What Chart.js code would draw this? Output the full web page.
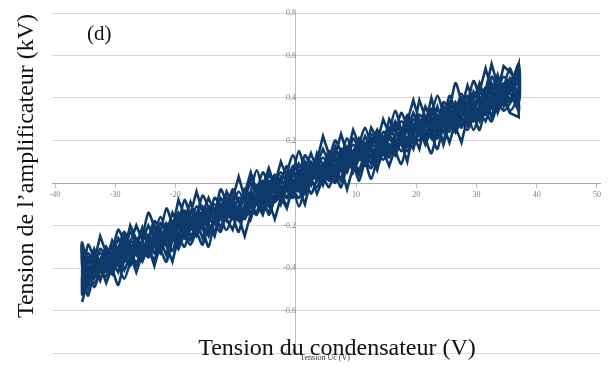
<!DOCTYPE html>
<html>
<head>
<meta charset="utf-8">
<script src="https://cdn.jsdelivr.net/npm/chart.js@4"></script>
<style>
  body { margin: 0; background: #fff; }
</style>
</head>
<body>
<canvas id="chart" width="616" height="367"></canvas>
<script>
// x positions (Tension Uc, V) of the samples, two interleaved grids
var gridA = [-35.5, -33.5, -31.5, -29.5, -27.5, -25.5, -23.5, -21.5, -19.5, -17.5, -15.5, -13.5, -11.5, -9.5, -7.5, -5.5, -3.5, -1.5,
  0.5, 2.5, 4.5, 6.5, 8.5, 10.5, 12.5, 14.5, 16.5, 18.5, 20.5, 22.5, 24.5, 26.5, 28.5, 30.5, 32.5, 34.5, 37];
var gridB = [-35.5, -34.5, -32.5, -30.5, -28.5, -26.5, -24.5, -22.5, -20.5, -18.5, -16.5, -14.5, -12.5, -10.5, -8.5, -6.5, -4.5, -2.5,
  -0.5, 1.5, 3.5, 5.5, 7.5, 9.5, 11.5, 13.5, 15.5, 17.5, 19.5, 21.5, 23.5, 25.5, 27.5, 29.5, 31.5, 33.5, 35.5, 37];

// amplifier voltage (kV), one array per sweep (odd: gridA, even: gridB)
var sweep1 = [-0.31, -0.45, -0.33, -0.42, -0.20, -0.33, -0.20, -0.34, -0.08, -0.22, -0.13, -0.25, -0.04, -0.15, 0.05, -0.13, -0.01, -0.12,
  0.09, -0.01, 0.22, 0.05, 0.17, 0.04, 0.26, 0.16, 0.27, 0.10, 0.39, 0.23, 0.34, 0.24, 0.46, 0.31, 0.56, 0.36, 0.56];
var sweep2 = [-0.53, -0.35, -0.46, -0.27, -0.36, -0.20, -0.34, -0.22, -0.37, -0.14, -0.21, -0.07, -0.21, -0.07, -0.25, -0.04, -0.11, 0.10,
  -0.04, 0.10, -0.05, 0.09, 0.02, 0.25, 0.11, 0.22, 0.08, 0.25, 0.16, 0.36, 0.23, 0.34, 0.19, 0.43, 0.34, 0.51, 0.33, 0.31];
var sweep3 = [-0.45, -0.31, -0.47, -0.32, -0.37, -0.21, -0.39, -0.19, -0.26, -0.09, -0.26, -0.12, -0.18, 0.03, -0.17, 0.00, -0.17, 0.03,
  -0.01, 0.14, -0.01, 0.17, -0.03, 0.18, 0.09, 0.30, 0.16, 0.30, 0.16, 0.40, 0.18, 0.38, 0.31, 0.47, 0.31, 0.55, 0.48];
var sweep4 = [-0.35, -0.49, -0.25, -0.41, -0.25, -0.42, -0.25, -0.33, -0.14, -0.25, -0.04, -0.23, -0.12, -0.22, -0.03, -0.10, 0.07, -0.10,
  0.05, -0.10, 0.14, 0.03, 0.23, 0.05, 0.18, 0.06, 0.30, 0.19, 0.39, 0.20, 0.36, 0.19, 0.38, 0.32, 0.54, 0.33, 0.48, 0.46];
var sweep5 = [-0.56, -0.36, -0.44, -0.22, -0.34, -0.24, -0.36, -0.12, -0.28, -0.16, -0.29, -0.07, -0.16, -0.04, -0.14, 0.05, -0.08, 0.08,
  -0.11, 0.07, 0.01, 0.20, 0.09, 0.20, 0.02, 0.22, 0.14, 0.32, 0.22, 0.34, 0.20, 0.47, 0.29, 0.39, 0.29, 0.47, 0.34];
var sweep6 = [-0.39, -0.53, -0.31, -0.39, -0.23, -0.39, -0.14, -0.28, -0.19, -0.30, -0.11, -0.30, -0.03, -0.16, -0.07, -0.15, 0.01, -0.04,
  0.13, -0.04, 0.09, -0.02, 0.16, 0.10, 0.26, 0.08, 0.22, 0.09, 0.30, 0.23, 0.41, 0.24, 0.42, 0.25, 0.42, 0.35, 0.54, 0.38];
var sweep7 = [-0.28, -0.49, -0.32, -0.48, -0.23, -0.35, -0.25, -0.37, -0.16, -0.27, -0.06, -0.17, -0.07, -0.23, 0.02, -0.08, 0.04, -0.07,
  0.15, -0.05, 0.09, 0.01, 0.21, 0.01, 0.23, 0.13, 0.34, 0.15, 0.28, 0.14, 0.38, 0.30, 0.41, 0.25, 0.50, 0.38, 0.42];
var sweep8 = [-0.49, -0.29, -0.42, -0.30, -0.45, -0.29, -0.33, -0.16, -0.32, -0.08, -0.24, -0.13, -0.23, -0.03, -0.15, 0.06, -0.15, 0.01,
  -0.07, 0.13, 0.02, 0.13, -0.02, 0.21, 0.10, 0.24, 0.12, 0.33, 0.19, 0.30, 0.16, 0.41, 0.26, 0.48, 0.32, 0.49, 0.38, 0.54];
var sweep9 = [-0.36, -0.42, -0.30, -0.39, -0.30, -0.37, -0.23, -0.27, -0.14, -0.25, -0.17, -0.23, -0.07, -0.12, 0.00, -0.10, 0.01, -0.07,
  0.04, 0.02, 0.16, 0.03, 0.13, 0.06, 0.21, 0.18, 0.29, 0.18, 0.29, 0.21, 0.36, 0.30, 0.39, 0.29, 0.47, 0.38, 0.50];
var sweep10 = [-0.47, -0.36, -0.40, -0.30, -0.41, -0.28, -0.32, -0.19, -0.25, -0.16, -0.25, -0.15, -0.17, -0.04, -0.15, -0.06, -0.14, 0.03,
  0.00, 0.09, 0.01, 0.11, 0.01, 0.15, 0.12, 0.25, 0.14, 0.22, 0.17, 0.31, 0.25, 0.38, 0.27, 0.37, 0.29, 0.44, 0.40, 0.38];
var sweep11 = [-0.41, -0.33, -0.41, -0.26, -0.35, -0.28, -0.33, -0.20, -0.31, -0.17, -0.11, -0.18, -0.12, -0.17, -0.04, -0.15, 0.03, -0.01,
  -0.04, 0.10, 0.04, 0.12, 0.05, 0.21, 0.12, 0.20, 0.13, 0.27, 0.24, 0.34, 0.24, 0.35, 0.27, 0.43, 0.37, 0.46, 0.52];
var sweep12 = [-0.32, -0.45, -0.37, -0.43, -0.29, -0.34, -0.20, -0.32, -0.22, -0.26, -0.14, -0.25, -0.07, -0.14, -0.08, -0.14, 0.04, -0.05,
  0.06, -0.05, 0.07, 0.02, 0.15, 0.08, 0.22, 0.10, 0.22, 0.18, 0.33, 0.18, 0.32, 0.26, 0.40, 0.31, 0.40, 0.34, 0.49, 0.34];
var sweep13 = [-0.50, -0.37, -0.42, -0.30, -0.39, -0.22, -0.29, -0.22, -0.29, -0.14, -0.21, -0.10, -0.22, -0.07, -0.10, 0.01, -0.09, 0.01,
  -0.07, 0.09, 0.03, 0.15, 0.10, 0.16, 0.07, 0.24, 0.18, 0.26, 0.20, 0.35, 0.27, 0.36, 0.25, 0.40, 0.35, 0.50, 0.38];
var sweep14 = [-0.29, -0.42, -0.33, -0.40, -0.27, -0.37, -0.27, -0.30, -0.18, -0.23, -0.16, -0.24, -0.10, -0.17, -0.04, -0.09, -0.02, -0.07,
  0.08, 0.01, 0.10, 0.01, 0.12, 0.07, 0.19, 0.13, 0.26, 0.15, 0.26, 0.22, 0.34, 0.26, 0.36, 0.29, 0.45, 0.38, 0.45, 0.56];
var sweep15 = [-0.33, -0.47, -0.35, -0.36, -0.27, -0.35, -0.18, -0.29, -0.20, -0.29, -0.14, -0.19, -0.05, -0.18, -0.07, -0.10, 0.02, -0.10,
  0.05, 0.01, 0.12, 0.00, 0.16, 0.11, 0.19, 0.11, 0.21, 0.17, 0.32, 0.24, 0.32, 0.24, 0.38, 0.33, 0.44, 0.34, 0.44];
var sweep16 = [-0.44, -0.33, -0.44, -0.34, -0.37, -0.26, -0.35, -0.24, -0.27, -0.13, -0.23, -0.11, -0.16, -0.09, -0.17, -0.01, -0.06, 0.05,
  -0.06, 0.05, -0.02, 0.15, 0.06, 0.18, 0.08, 0.18, 0.15, 0.29, 0.20, 0.28, 0.21, 0.36, 0.31, 0.42, 0.33, 0.44, 0.34, 0.41];

var xTicks = [-40, -30, -20, -10, 0, 10, 20, 30, 40, 50];
var yTicks = [-0.8, -0.6, -0.4, -0.2, 0, 0.2, 0.4, 0.6, 0.8];

function pts(xs, ys, back) {
  var p = xs.map(function (x, i) { return { x: x, y: ys[i] }; });
  return back ? p.reverse() : p;
}

var pathA = [].concat(pts(gridA, sweep1), pts(gridB, sweep2, true), pts(gridA, sweep3), pts(gridB, sweep4, true));
var pathB = [].concat(pts(gridA, sweep5), pts(gridB, sweep6, true), pts(gridA, sweep7), pts(gridB, sweep8, true));
var pathC = [].concat(pts(gridA, sweep9), pts(gridB, sweep10, true), pts(gridA, sweep11), pts(gridB, sweep12, true));
var pathD = [].concat(pts(gridA, sweep13), pts(gridB, sweep14, true), pts(gridA, sweep15), pts(gridB, sweep16, true));

var navy = '#0d3a6b';

function trace(path, tension) {
  return {
    data: path,
    showLine: true,
    borderColor: navy,
    backgroundColor: navy,
    borderWidth: 2.6,
    pointRadius: 0,
    tension: tension
  };
}

// les titres sont dessinés à la main
var texts = {
  id: 'texts',
  afterDraw: function (chart) {
    var ctx = chart.ctx;
    ctx.save();
    ctx.fillStyle = '#333';
    ctx.font = '8px "Liberation Serif"';
    ctx.textAlign = 'center';
    ctx.textBaseline = 'middle';
    ctx.fillText('Tension Uc (V)', 325, 358);

    ctx.fillStyle = '#111';
    ctx.textBaseline = 'alphabetic';
    ctx.textAlign = 'left';
    ctx.font = '21px "Liberation Serif"';
    ctx.fillText('(d)', 87, 40);

    ctx.textAlign = 'center';
    ctx.font = '24px "Liberation Serif"';
    ctx.fillText('Tension du condensateur (V)', 337, 355);

    ctx.translate(33, 166);
    ctx.rotate(-Math.PI / 2);
    ctx.fillText('Tension de l\u2019amplificateur (kV)', 0, 0);
    ctx.restore();
  }
};

var config = {
  type: 'scatter',
  data: {
    datasets: [trace(pathA, 0), trace(pathB, 0.2), trace(pathC, 0), trace(pathD, 0.25)]
  },
  options: {
    responsive: false,
    animation: false,
    devicePixelRatio: 1,
    layout: { padding: { left: 52, right: 16, top: 13, bottom: 14 } },
    plugins: { legend: { display: false }, tooltip: { enabled: false } },
    scales: {
      x: {
        type: 'linear',
        min: -40.5,
        max: 50.5,
        position: { y: 0 },
        afterBuildTicks: function (axis) {
          axis.ticks = xTicks.map(function (v) { return { value: v }; });
        },
        grid: { drawOnChartArea: false, drawTicks: true, tickLength: 4, color: '#bfbfbf' },
        border: { display: true, color: '#a6a6a6', width: 1 },
        ticks: {
          padding: 3,
          maxRotation: 0,
          color: '#7f7f7f',
          font: { family: 'Liberation Serif', size: 8 },
          callback: function (v) { return String(v); }
        }
      },
      y: {
        type: 'linear',
        min: -0.8,
        max: 0.8,
        position: { x: 0 },
        afterBuildTicks: function (axis) {
          axis.ticks = yTicks.map(function (v) { return { value: v }; });
        },
        grid: { color: '#d9d9d9', drawTicks: false },
        border: { display: true, color: '#bfbfbf', width: 1 },
        ticks: {
          padding: 8,
          color: '#7f7f7f',
          font: { family: 'Liberation Serif', size: 8 },
          callback: function (v) { return v === 0 ? '0' : v.toFixed(1).replace('.', ','); }
        }
      }
    }
  },
  plugins: [texts]
};

var chart = new Chart(document.getElementById('chart'), config);
</script>
</body>
</html>
